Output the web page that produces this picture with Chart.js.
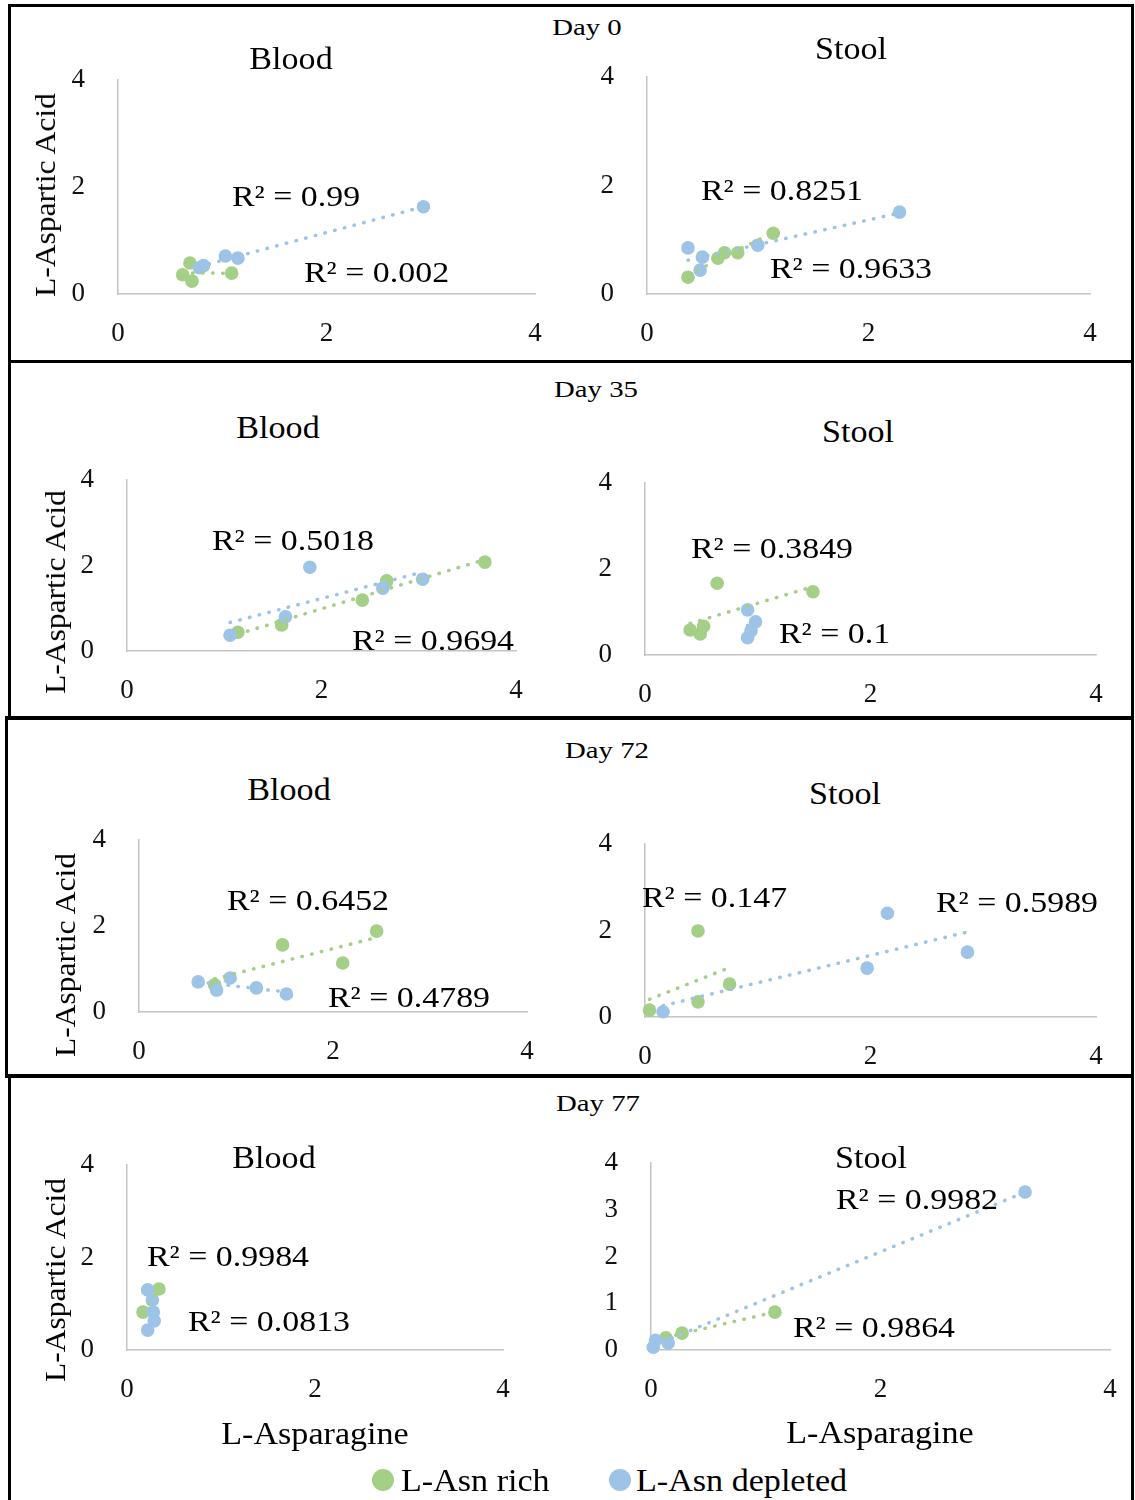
<!DOCTYPE html>
<html><head><meta charset="utf-8">
<script src="https://cdn.jsdelivr.net/npm/chart.js@4.4.0/dist/chart.umd.min.js"></script>
<style>
html,body{margin:0;padding:0;background:#fff;}
body{width:1135px;height:1500px;position:relative;overflow:hidden;font-family:"Liberation Serif","Times New Roman",serif;}
.panel{position:absolute;border:3px solid #000;box-sizing:border-box;}
.cv{position:absolute;}
.t{position:absolute;white-space:pre;line-height:1;color:#000;}
.dot{position:absolute;border-radius:50%;}
</style></head><body>
<script>
// ---------------- data ----------------
const xTicks = [0, 2, 4];
const yTicks = [0, 2, 4];
const yTicksFine = [0, 1, 2, 3, 4];
const days = ['Day 0', 'Day 35', 'Day 72', 'Day 77'];
const tissues = ['Blood', 'Stool'];
const seriesNames = ['L-Asn rich', 'L-Asn depleted'];
const xTitle = 'L-Asparagine';
const yTitle = 'L-Aspartic Acid';

const day0BloodRich  = [[0.69,0.58],[0.62,0.36],[0.71,0.24],[1.09,0.39]];
const day0BloodDepl  = [[0.78,0.49],[0.82,0.53],[1.03,0.71],[1.15,0.67],[2.93,1.63]];
const day0StoolRich  = [[0.37,0.31],[0.64,0.66],[0.70,0.76],[0.82,0.76],[1.14,1.12]];
const day0StoolDepl  = [[0.37,0.85],[0.50,0.68],[0.48,0.44],[1.00,0.90],[2.28,1.51]];
const day35BloodRich = [[1.14,0.44],[1.59,0.61],[2.42,1.19],[2.67,1.64],[3.68,2.08]];
const day35BloodDepl = [[1.06,0.37],[1.63,0.80],[1.88,1.96],[2.63,1.47],[3.04,1.68]];
const day35StoolRich = [[0.64,1.67],[0.40,0.58],[0.49,0.49],[0.52,0.67],[1.49,1.47]];
const day35StoolDepl = [[0.91,1.05],[0.98,0.77],[0.94,0.56],[0.91,0.40]];
const day72BloodRich = [[0.78,0.63],[1.48,1.56],[2.10,1.14],[2.45,1.88]];
const day72BloodDepl = [[0.61,0.70],[0.80,0.51],[0.94,0.79],[1.21,0.56],[1.52,0.42]];
const day72StoolRich = [[0.04,0.16],[0.47,1.99],[0.47,0.35],[0.75,0.76]];
const day72StoolDepl = [[0.16,0.12],[2.15,2.40],[1.97,1.13],[2.86,1.50]];
const day77BloodRich = [[0.34,1.32],[0.17,0.82]];
const day77BloodDepl = [[0.22,1.30],[0.27,1.08],[0.28,0.82],[0.29,0.63],[0.22,0.43]];
const day77StoolRich = [[0.13,0.26],[0.27,0.36],[1.08,0.81]];
const day77StoolDepl = [[0.02,0.06],[0.04,0.21],[0.15,0.15],[3.26,3.38]];

const day0BloodR2  = ['R\u00B2 = 0.99',   'R\u00B2 = 0.002'];
const day0StoolR2  = ['R\u00B2 = 0.8251', 'R\u00B2 = 0.9633'];
const day35BloodR2 = ['R\u00B2 = 0.5018', 'R\u00B2 = 0.9694'];
const day35StoolR2 = ['R\u00B2 = 0.3849', 'R\u00B2 = 0.1'];
const day72BloodR2 = ['R\u00B2 = 0.6452', 'R\u00B2 = 0.4789'];
const day72StoolR2 = ['R\u00B2 = 0.147',  'R\u00B2 = 0.5989'];
const day77BloodR2 = ['R\u00B2 = 0.9984', 'R\u00B2 = 0.0813'];
const day77StoolR2 = ['R\u00B2 = 0.9982', 'R\u00B2 = 0.9864'];

// ---------------- styles / layout ----------------
const GREEN = '#A4CF87';
const BLUE = '#9DC3E6';
const AXIS = '#c4c4c4';
const FONT = 'Liberation Serif';

function addText(txt, x, y, size, opts = {}) {
  const d = document.createElement('div');
  d.className = 't';
  d.textContent = txt;
  d.style.fontSize = size + 'px';
  d.style.left = x + 'px';
  d.style.top = y + 'px';
  const sx = opts.sx || 1;
  const rot = opts.rot ? ' rotate(-90deg)' : '';
  if (opts.align === 'left') {
    d.style.transformOrigin = '0 50%';
    d.style.transform = 'translateY(-50%) scaleX(' + sx + ')';
  } else {
    d.style.transform = 'translate(-50%,-50%)' + rot + ' scaleX(' + sx + ')';
  }
  document.body.appendChild(d);
  return d;
}

function addPanel(l, t, r, b) {
  const d = document.createElement('div');
  d.className = 'panel';
  d.style.left = l + 'px'; d.style.top = t + 'px';
  d.style.width = (r - l) + 'px'; d.style.height = (b - t) + 'px';
  document.body.appendChild(d);
}

function fit(pts) {
  const n = pts.length;
  let sx = 0, sy = 0;
  pts.forEach(p => { sx += p[0]; sy += p[1]; });
  const mx = sx / n, my = sy / n;
  let sxy = 0, sxx = 0;
  pts.forEach(p => { sxy += (p[0] - mx) * (p[1] - my); sxx += (p[0] - mx) * (p[0] - mx); });
  const b = sxx ? sxy / sxx : 0, a = my - b * mx;
  const xs = pts.map(p => p[0]);
  const x0 = Math.min(...xs), x1 = Math.max(...xs);
  return [{x: x0, y: a + b * x0}, {x: x1, y: a + b * x1}];
}

function makeChart(box, rich, depl, yt) {
  const {L, R, T, B} = box;
  const padL = 70, padB = 70, padT = 22, padR = 28;
  const c = document.createElement('canvas');
  c.className = 'cv';
  const w = R - L + padL + padR, h = B - T + padT + padB;
  c.style.left = (L - padL) + 'px'; c.style.top = (T - padT) + 'px';
  c.style.width = w + 'px'; c.style.height = h + 'px';
  c.width = w; c.height = h;
  document.body.appendChild(c);
  const toXY = arr => arr.map(p => ({x: p[0], y: p[1]}));
  const trend = (pts, col) => ({
    data: fit(pts), showLine: true, pointRadius: 0, borderColor: col,
    borderWidth: 3.5, borderDash: [0.5, 9.5], borderCapStyle: 'round',
    fill: false, clip: false, order: 0
  });
  const pts = (arr, col, ord) => ({
    data: toXY(arr), pointRadius: 6.8, pointBackgroundColor: col,
    pointBorderColor: col, pointBorderWidth: 0, clip: false, order: ord
  });
  new Chart(c, {
    type: 'scatter',
    data: { datasets: [
      trend(rich, GREEN), trend(depl, BLUE),
      pts(depl, BLUE, 1), pts(rich, GREEN, 2)
    ]},
    options: {
      responsive: false, animation: false, devicePixelRatio: 1,
      layout: { padding: { top: padT, right: padR, left: 0, bottom: 0 } },
      plugins: { legend: { display: false }, tooltip: { enabled: false } },
      scales: {
        x: {
          type: 'linear', min: 0, max: 4,
          afterBuildTicks: s => { s.ticks = xTicks.map(v => ({value: v})); },
          grid: { display: false, drawTicks: false },
          border: { display: true, color: AXIS, width: 1.5 },
          ticks: { padding: 24, color: '#111', font: { family: FONT, size: 27 }, maxRotation: 0, autoSkip: false },
          afterFit: s => { s.height = padB; s.paddingLeft = 0; s.paddingRight = 0; }
        },
        y: {
          type: 'linear', min: 0, max: 4,
          afterBuildTicks: s => { s.ticks = yt.map(v => ({value: v})); },
          grid: { display: false, drawTicks: false },
          border: { display: true, color: AXIS, width: 1.5 },
          ticks: { padding: 33, color: '#111', font: { family: FONT, size: 27 }, autoSkip: false },
          afterFit: s => { s.width = padL; s.paddingTop = 0; s.paddingBottom = 0; }
        }
      }
    }
  });
}

// panels
addPanel(8, 4, 1134, 363);
addPanel(8, 360, 1134, 720);
addPanel(5, 716, 1134, 1078);
addPanel(8, 1074, 1134, 1504);

// charts
makeChart({L:118, R:535, T:80,  B:294},  day0BloodRich,  day0BloodDepl,  yTicks);
makeChart({L:647, R:1090, T:77, B:294},  day0StoolRich,  day0StoolDepl,  yTicks);
makeChart({L:127, R:516, T:480, B:651},  day35BloodRich, day35BloodDepl, yTicks);
makeChart({L:645, R:1096, T:483, B:655}, day35StoolRich, day35StoolDepl, yTicks);
makeChart({L:139, R:527, T:840, B:1012}, day72BloodRich, day72BloodDepl, yTicks);
makeChart({L:645, R:1096, T:844, B:1017},day72StoolRich, day72StoolDepl, yTicks);
makeChart({L:127, R:503, T:1165, B:1350},day77BloodRich, day77BloodDepl, yTicks);
makeChart({L:651, R:1110, T:1163, B:1350},day77StoolRich, day77StoolDepl, yTicksFine);

// day titles
const dayPos = [[587,27],[596,389],[607,750],[598,1103]];
days.forEach((d, i) => addText(d, dayPos[i][0], dayPos[i][1], 23, {sx: 1.25}));

// tissue titles
const tissuePos = [[[291,58],[851,48]],[[278,427],[858,431]],[[289,789],[845,793]],[[274,1157],[871,1157]]];
tissuePos.forEach(pr => pr.forEach((p, j) => addText(tissues[j], p[0], p[1], 31, {sx: 1.1})));

// R² labels
const r2Sets = [day0BloodR2, day0StoolR2, day35BloodR2, day35StoolR2, day72BloodR2, day72StoolR2, day77BloodR2, day77StoolR2];
const r2Pos = [
  [[232,196],[304,272]], [[701,190],[770,268]],
  [[212,540],[352,640]], [[691,548],[779,633]],
  [[227,900],[328,997]], [[642,897],[936,902]],
  [[147,1256],[188,1321]], [[836,1199],[793,1327]]
];
r2Sets.forEach((set, i) => set.forEach((s, j) => addText(s, r2Pos[i][j][0], r2Pos[i][j][1], 30, {align: 'left', sx: 1.13})));

// axis titles
[[45,195],[55,592],[65,955],[55,1280]].forEach(p => addText(yTitle, p[0], p[1], 30, {rot: true, sx: 1.05}));
[[315,1433],[880,1432]].forEach(p => addText(xTitle, p[0], p[1], 31, {sx: 1.1}));

// legend
function legendDot(x, y, col) {
  const d = document.createElement('div');
  d.className = 'dot';
  d.style.left = (x - 11) + 'px'; d.style.top = (y - 11) + 'px';
  d.style.width = '22px'; d.style.height = '22px';
  d.style.background = col;
  document.body.appendChild(d);
}
legendDot(383, 1480, GREEN);
legendDot(620, 1480, BLUE);
addText(seriesNames[0], 401, 1480, 31, {align: 'left', sx: 1.1});
addText(seriesNames[1], 636, 1480, 31, {align: 'left', sx: 1.1});
</script>
</body></html>
